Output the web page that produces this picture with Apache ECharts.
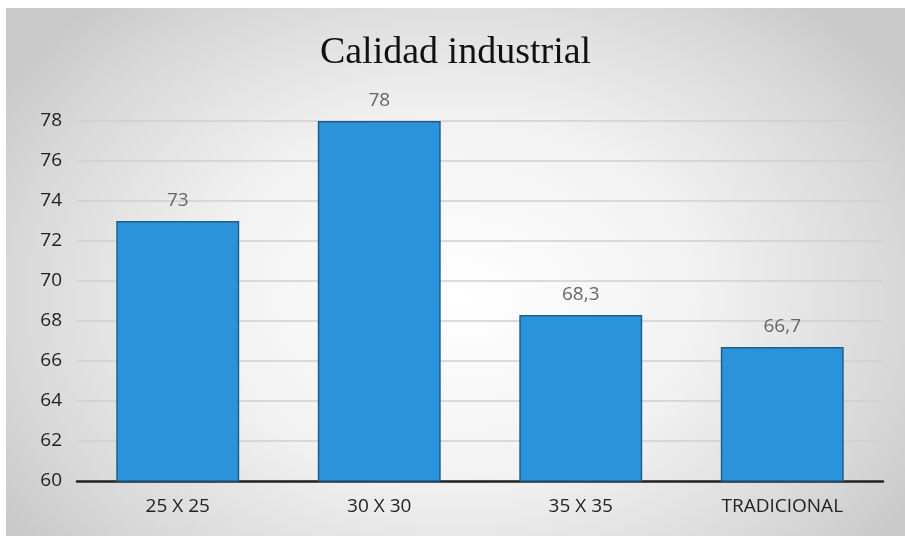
<!DOCTYPE html>
<html>
<head>
<meta charset="utf-8">
<script src="https://cdn.jsdelivr.net/npm/echarts@6/dist/echarts.min.js"></script>
<style>
  html, body { margin: 0; padding: 0; background: #fff; }
  #chart {
    position: absolute; left: 6px; top: 8px; width: 899px; height: 528px;
    background: radial-gradient(ellipse 60% 75% at 50% 55%, #ffffff 0%, #f2f2f2 45%, #d6d6d6 85%, #c9c9c9 100%);
  }
</style>
</head>
<body>
<div id="chart"></div>
<script>
var categories = ["25 X 25", "30 X 30", "35 X 35", "TRADICIONAL"];
var values = [73, 78, 68.3, 66.7];
var yTicks = { min: 60, max: 78, step: 2 };

var myChart = echarts.init(document.getElementById("chart"));
var option = {
  title: {
    text: "Calidad industrial",
    left: "center",
    top: 21,
    textStyle: { fontFamily: "Liberation Serif", fontWeight: "normal", fontSize: 38, color: "#111" }
  },
  grid: { left: 71, right: 22, top: 113, bottom: 55 },
  xAxis: {
    type: "category",
    data: categories,
    axisLine: { lineStyle: { color: "#222", width: 2.5 } },
    axisTick: { show: false },
    axisLabel: { fontFamily: "Open Sans", fontSize: 19, color: "#222", margin: 16 }
  },
  yAxis: {
    type: "value",
    min: yTicks.min,
    max: yTicks.max,
    interval: yTicks.step,
    axisLine: { show: false },
    axisTick: { show: false },
    axisLabel: { fontFamily: "Open Sans", fontSize: 19, color: "#222", margin: 15 },
    splitLine: { lineStyle: { color: "#cfcfcf", width: 1.5 } }
  },
  series: [{
    type: "bar",
    data: values,
    barWidth: "61%",
    itemStyle: { color: "#2B93DA", borderColor: "#1C5F8F", borderWidth: 1.5 },
    label: {
      show: true,
      position: "top",
      distance: 11,
      fontFamily: "Open Sans",
      fontSize: 19,
      color: "#666",
      formatter: function (p) { return String(p.value).replace(".", ","); }
    }
  }]
};
option && myChart.setOption(option);
</script>
</body>
</html>
